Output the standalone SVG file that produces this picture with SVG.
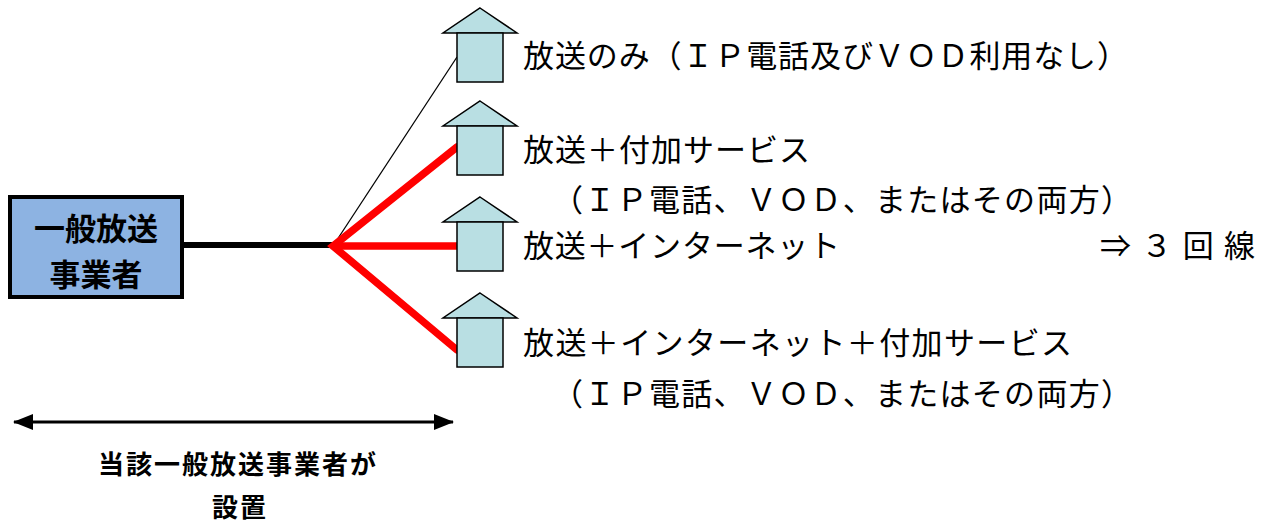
<svg xmlns="http://www.w3.org/2000/svg" width="1272" height="525" viewBox="0 0 1272 525">
<style>
.t{font-family:"Noto Sans CJK JP","Noto Sans",sans-serif;font-size:31px;fill:#000}
.b{font-family:"Noto Sans CJK JP","Noto Sans",sans-serif;font-weight:bold;fill:#000;text-anchor:middle}
.house{fill:#B9DFE3;stroke:#000;stroke-width:1.5;stroke-linejoin:miter}
</style>
<defs>
<g id="houseShape">
<polygon class="house" points="0,0 37,25 -37,25"/>
<rect class="house" x="-23" y="25" width="46" height="49"/>
</g>
<marker id="ah" viewBox="0 0 20 16" refX="19" refY="8" markerWidth="20" markerHeight="16" markerUnits="userSpaceOnUse" orient="auto-start-reverse">
<path d="M0,0 L20,8 L0,16 Z" fill="#000"/>
</marker>
</defs>
<g id="connectors">
<line x1="183" y1="245" x2="333" y2="245" stroke="#000" stroke-width="6"/>
<line x1="333" y1="246" x2="457" y2="57" stroke="#000" stroke-width="1.3"/>
<path d="M457,147 L333,246 L457,350" fill="none" stroke="#FF0000" stroke-width="7.5" stroke-linejoin="miter" stroke-linecap="round"/>
<line x1="333" y1="246" x2="457" y2="246" stroke="#FF0000" stroke-width="7.5"/>
<line x1="14" y1="422" x2="453" y2="422" stroke="#000" stroke-width="3" marker-start="url(#ah)" marker-end="url(#ah)"/>
</g>
<g id="broadcaster">
<rect x="10" y="197" width="172" height="100" fill="#8DB3E2" stroke="#000" stroke-width="4"/>
<text class="b" x="96" y="240" font-size="31">一般放送</text>
<text class="b" x="96" y="286" font-size="31">事業者</text>
</g>
<g id="house1"><use href="#houseShape" x="480" y="8"/></g>
<g id="house2"><use href="#houseShape" x="480" y="101"/></g>
<g id="house3"><use href="#houseShape" x="480" y="197"/></g>
<g id="house4"><use href="#houseShape" x="480" y="293"/></g>
<g id="labels">
<text class="t" x="523" y="67" textLength="605" lengthAdjust="spacing">放送のみ（ＩＰ電話及びＶＯＤ利用なし）</text>
<text class="t" x="523" y="161" textLength="287" lengthAdjust="spacing">放送＋付加サービス</text>
<text class="t" x="552" y="211" textLength="580" lengthAdjust="spacing">（ＩＰ電話、ＶＯＤ、またはその両方）</text>
<text class="t" x="523" y="257" textLength="317" lengthAdjust="spacing">放送＋インターネット</text>
<text class="t" x="523" y="354" textLength="549" lengthAdjust="spacing">放送＋インターネット＋付加サービス</text>
<text class="t" x="552" y="405" textLength="580" lengthAdjust="spacing">（ＩＰ電話、ＶＯＤ、またはその両方）</text>
<text class="t" x="1100" y="257" font-size="33" textLength="155" lengthAdjust="spacing">⇒３回線</text>
</g>
<g id="caption">
<text class="b" x="238" y="474" font-size="26" letter-spacing="2">当該一般放送事業者が</text>
<text class="b" x="240" y="517" font-size="26" letter-spacing="2">設置</text>
</g>
</svg>
